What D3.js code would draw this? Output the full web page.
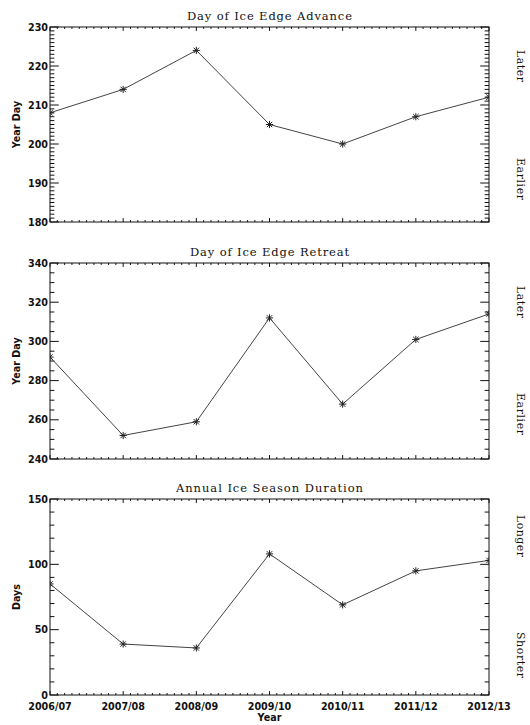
<!DOCTYPE html>
<html>
<head>
<meta charset="utf-8">
<script src="https://cdn.jsdelivr.net/npm/d3@7"></script>
<style>
  html, body { margin: 0; padding: 0; background: #fff; }
  svg { display: block; }
</style>
</head>
<body>
<svg id="chart" width="530" height="725"></svg>
<script>
// ---------------- DATA ----------------
const categories = ["2006/07", "2007/08", "2008/09", "2009/10", "2010/11", "2011/12", "2012/13"];
const advanceValues  = [208, 214, 224, 205, 200, 207, 212];
const retreatValues  = [292, 252, 259, 312, 268, 301, 314];
const durationValues = [85, 39, 36, 108, 69, 95, 103];

const advanceTicks  = [180, 190, 200, 210, 220, 230];
const retreatTicks  = [240, 260, 280, 300, 320, 340];
const durationTicks = [0, 50, 100, 150];

const panelTitles = ["Day of Ice Edge Advance", "Day of Ice Edge Retreat", "Annual Ice Season Duration"];
const yAxisTitles = ["Year Day", "Year Day", "Days"];
const upperNotes  = ["Later", "Later", "Longer"];
const lowerNotes  = ["Earlier", "Earlier", "Shorter"];
const xAxisTitle  = "Year";

// ---------------- LAYOUT ----------------
const svg = d3.select("#chart");
const left = 50, right = 489;
const panels = [
  { top: 27,  bottom: 222, values: advanceValues,  ticks: advanceTicks,  minorDiv: 10, titleW: 165, upC: 66,  loC: 179, upW: 32, loW: 42 },
  { top: 263, bottom: 459, values: retreatValues,  ticks: retreatTicks,  minorDiv: 4,  titleW: 159, upC: 302, loC: 414, upW: 32, loW: 42 },
  { top: 499, bottom: 695, values: durationValues, ticks: durationTicks, minorDiv: 5,  titleW: 187, upC: 536, loC: 655, upW: 42, loW: 46 }
];

const x = d3.scalePoint().domain(categories).range([left, right]).padding(0);
const step = x.step();

const labelFont = "'DejaVu Sans', sans-serif";
const serifFont = "'DejaVu Serif', 'Liberation Serif', serif";
const ink = "#111";

panels.forEach((p, pi) => {
  const y = d3.scaleLinear().domain(d3.extent(p.ticks)).range([p.bottom, p.top]);
  const g = svg.append("g");
  const plotH = p.bottom - p.top, plotW = right - left;
  const xMajLen = plotH * 0.02, xMinLen = xMajLen / 2;
  const yMajLen = plotW * 0.02, yMinLen = yMajLen / 2;

  // x ticks (bottom & top)
  const xMinor = [];
  categories.forEach((c, i) => {
    if (i < categories.length - 1) {
      for (let k = 1; k < 10; k++) xMinor.push(x(c) + k * step / 10);
    }
  });
  categories.forEach(c => {
    const xx = x(c);
    g.append("line").attr("x1", xx).attr("x2", xx).attr("y1", p.bottom).attr("y2", p.bottom - xMajLen).attr("stroke", ink);
    g.append("line").attr("x1", xx).attr("x2", xx).attr("y1", p.top).attr("y2", p.top + xMajLen).attr("stroke", ink);
  });
  xMinor.forEach(xx => {
    g.append("line").attr("x1", xx).attr("x2", xx).attr("y1", p.bottom).attr("y2", p.bottom - xMinLen).attr("stroke", ink);
    g.append("line").attr("x1", xx).attr("x2", xx).attr("y1", p.top).attr("y2", p.top + xMinLen).attr("stroke", ink);
  });

  // y ticks (left & right)
  const majorStep = p.ticks[1] - p.ticks[0];
  const minorStep = majorStep / p.minorDiv;
  const yMinor = [];
  for (let i = 0; i < p.ticks.length - 1; i++) {
    for (let k = 1; k < p.minorDiv; k++) yMinor.push(p.ticks[i] + k * minorStep);
  }
  p.ticks.forEach(t => {
    const yy = y(t);
    g.append("line").attr("x1", left).attr("x2", left + yMajLen).attr("y1", yy).attr("y2", yy).attr("stroke", ink);
    g.append("line").attr("x1", right).attr("x2", right - yMajLen).attr("y1", yy).attr("y2", yy).attr("stroke", ink);
    g.append("text").attr("x", left - 2).attr("y", yy + 3.6)
      .attr("text-anchor", "end").attr("font-family", labelFont).attr("font-weight", "bold")
      .attr("font-size", 9.6).attr("fill", ink).text(t);
  });
  yMinor.forEach(v => {
    const yy = y(v);
    g.append("line").attr("x1", left).attr("x2", left + yMinLen).attr("y1", yy).attr("y2", yy).attr("stroke", ink);
    g.append("line").attr("x1", right).attr("x2", right - yMinLen).attr("y1", yy).attr("y2", yy).attr("stroke", ink);
  });

  // frame
  g.append("rect").attr("x", left).attr("y", p.top).attr("width", plotW).attr("height", plotH)
    .attr("fill", "none").attr("stroke", ink).attr("stroke-width", 1);

  // clip
  const clipId = "clip" + pi;
  svg.append("clipPath").attr("id", clipId).append("rect")
    .attr("x", left).attr("y", p.top).attr("width", plotW).attr("height", plotH);

  const data = categories.map((c, i) => ({ c, v: p.values[i] }));
  const line = d3.line().x(d => x(d.c)).y(d => y(d.v));
  const dg = g.append("g").attr("clip-path", `url(#${clipId})`);
  dg.append("path").datum(data).attr("d", line).attr("fill", "none").attr("stroke", "#444").attr("stroke-width", 1);

  const r = 3.6, rd = r * 0.75;
  data.forEach(d => {
    const cx = x(d.c), cy = y(d.v);
    const path = `M${cx - r},${cy}L${cx + r},${cy}M${cx},${cy - r}L${cx},${cy + r}` +
                 `M${cx - rd},${cy - rd}L${cx + rd},${cy + rd}M${cx - rd},${cy + rd}L${cx + rd},${cy - rd}`;
    dg.append("path").attr("d", path).attr("stroke", "#222").attr("stroke-width", 1).attr("fill", "none");
  });

  // title
  g.append("text").attr("x", (left + right) / 2).attr("y", p.top - 7)
    .attr("text-anchor", "middle").attr("font-family", serifFont).attr("font-size", 11.5)
    .attr("fill", ink).attr("textLength", p.titleW).attr("lengthAdjust", "spacing")
    .text(panelTitles[pi]);

  // y axis title
  const cy = (p.top + p.bottom) / 2;
  g.append("text").attr("transform", `translate(20,${cy}) rotate(-90)`)
    .attr("text-anchor", "middle").attr("font-family", labelFont).attr("font-weight", "bold")
    .attr("font-size", 9.6).attr("fill", ink).text(yAxisTitles[pi]);

  // right notes (rotated clockwise)
  [[upperNotes[pi], p.upC, p.upW], [lowerNotes[pi], p.loC, p.loW]].forEach(([t, c, w]) => {
    g.append("text").attr("transform", `translate(517,${c}) rotate(90)`)
      .attr("text-anchor", "middle").attr("font-family", serifFont).attr("font-size", 11)
      .attr("fill", ink).attr("textLength", w).attr("lengthAdjust", "spacing").text(t);
  });

  // x tick labels on bottom panel only
  if (pi === panels.length - 1) {
    categories.forEach(c => {
      g.append("text").attr("x", x(c)).attr("y", p.bottom + 15)
        .attr("text-anchor", "middle").attr("font-family", labelFont).attr("font-weight", "bold")
        .attr("font-size", 9.6).attr("fill", ink).text(c);
    });
    g.append("text").attr("x", (left + right) / 2).attr("y", p.bottom + 26)
      .attr("text-anchor", "middle").attr("font-family", labelFont).attr("font-weight", "bold")
      .attr("font-size", 9.6).attr("fill", ink).text(xAxisTitle);
  }
});
</script>
</body>
</html>
